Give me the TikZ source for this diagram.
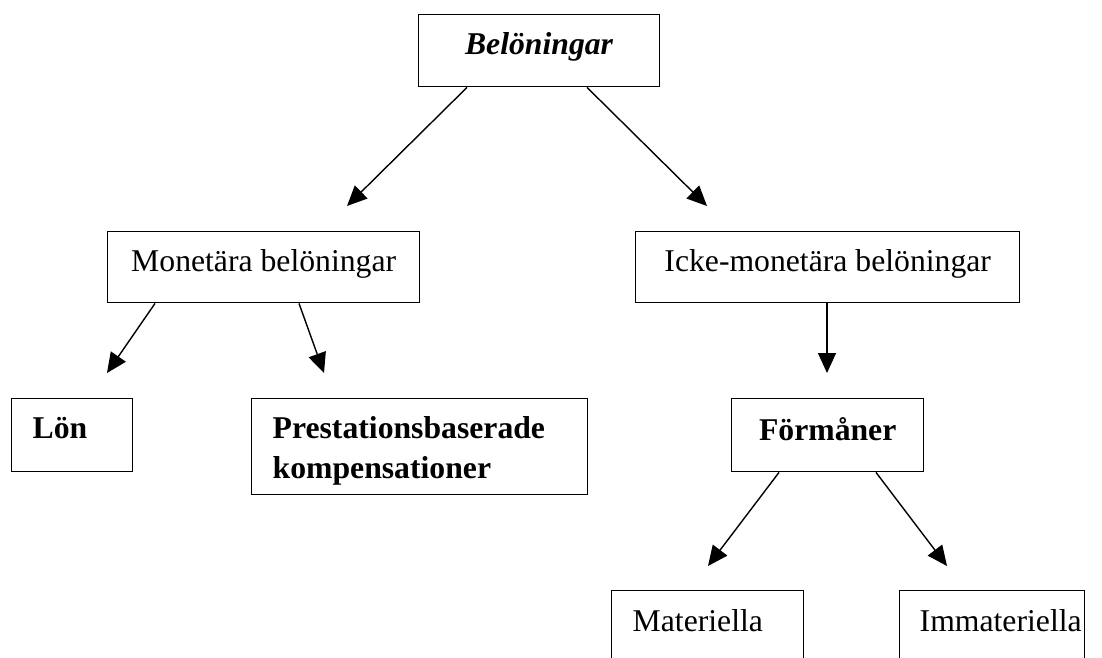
\documentclass[tikz,border=0pt]{standalone}
\usepackage{fontspec}
\setmainfont{Liberation Serif}
\usetikzlibrary{arrows.meta}
\newcommand{\cbx}[4]{\parbox[t][#2][t]{#1}{\centering\rule{0pt}{#3}#4\par}}
\newcommand{\lbx}[5]{\parbox[t][#2][t]{#1}{\raggedright\leftskip=#4\rule{0pt}{#3}#5\par}}
\tikzset{
  box/.style={draw, line width=1.4pt, inner sep=0pt, anchor=north west,
    font=\fontsize{31.7}{40}\selectfont},
  arr/.style={line width=1.4pt, -{Triangle[length=20pt,width=18pt]}}
}
\begin{document}
\begin{tikzpicture}[x=1pt,y=-1pt]
\useasboundingbox (0,0) rectangle (1102,657);
\clip (0,0) rectangle (1102,657);
\fill[white] (0,0) rectangle (1102,657);
\node[box] (bel)  at (418,14)  {\cbx{241pt}{72pt}{40pt}{\textbf{\textit{Belöningar}}}};
\node[box] (mon)  at (107,231) {\cbx{312pt}{71pt}{40pt}{Monetära belöningar}};
\node[box] (icke) at (635,231) {\cbx{384pt}{71pt}{40pt}{Icke-monetära belöningar}};
\node[box] (lon)  at (11,398)  {\lbx{121pt}{73pt}{40pt}{21pt}{\textbf{Lön}}};
\node[box] (pres) at (251,398) {\lbx{336pt}{96pt}{40pt}{21pt}{\textbf{Prestationsbaserade}\\\textbf{kompensationer}}};
\node[box] (form) at (731,398) {\cbx{192pt}{73pt}{42pt}{\textbf{Förmåner}}};
\node[box] (mat)  at (611,590) {\lbx{192pt}{100pt}{41pt}{21pt}{Materiella}};
\node[box] (imm)  at (899,590) {\lbx{185pt}{100pt}{41pt}{20pt}{Immateriella}};
\coordinate (t1) at (347,206);
\coordinate (t2) at (707,206);
\coordinate (t3) at (107,373);
\coordinate (t4) at (324,373);
\coordinate (t5) at (827,373);
\coordinate (t6) at (708,566);
\coordinate (t7) at (947,566);
\draw[arr] ([xshift=49pt]bel.south west) -- (t1);
\draw[arr] ([xshift=169pt]bel.south west) -- (t2);
\draw[arr] ([xshift=48pt]mon.south west) -- (t3);
\draw[arr] ([xshift=192pt]mon.south west) -- (t4);
\draw[arr] ([xshift=192pt]icke.south west) -- (t5);
\draw[arr] ([xshift=48pt]form.south west) -- (t6);
\draw[arr] ([xshift=145pt]form.south west) -- (t7);
\end{tikzpicture}
\end{document}
